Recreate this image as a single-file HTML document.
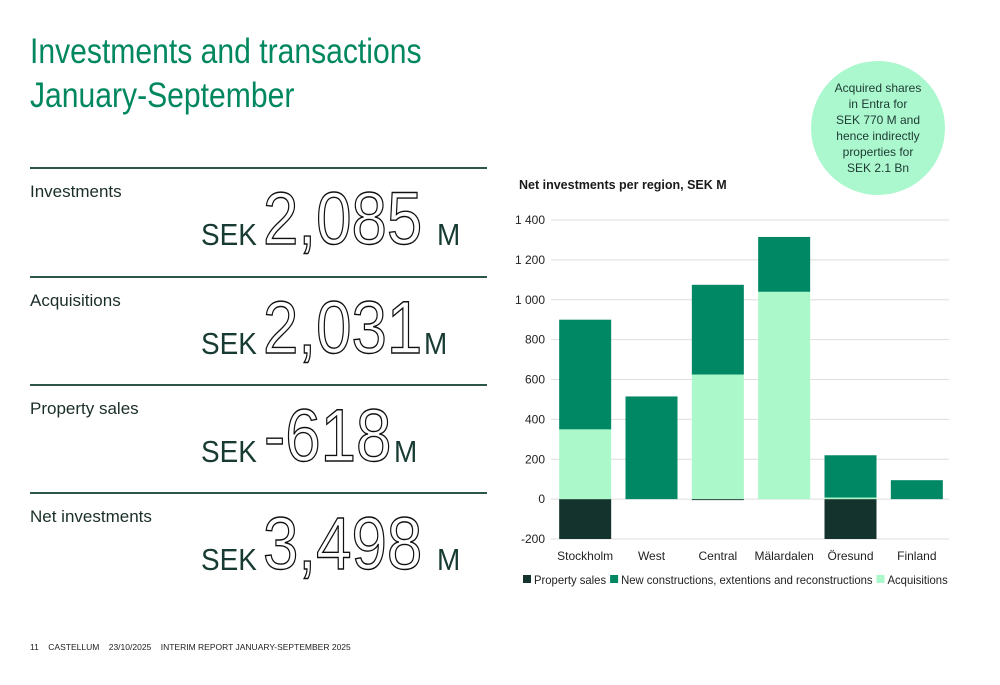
<!DOCTYPE html>
<html><head><meta charset="utf-8"><style>
body{margin:0;width:1000px;height:685px;background:#fff;font-family:"Liberation Sans",sans-serif;position:relative;overflow:hidden}
.abs{position:absolute}
.title{left:30px;top:30px;color:#00875f;font-size:35px;line-height:44px;transform:scaleX(0.86);transform-origin:left top;white-space:nowrap}
.rule{left:30px;width:457px;height:2px;background:#2d5548}
.lbl{left:30px;font-size:17px;color:#1a2e29}
.sek{font-size:31px;color:#173b32;transform:scaleX(0.9);transform-origin:left top;white-space:nowrap}
.big{font-size:74px;line-height:74px;color:#fff;-webkit-text-stroke:1.4px #111;transform:scaleX(0.86);transform-origin:left top;white-space:nowrap}
.circle{left:811px;top:61px;width:134px;height:134px;border-radius:50%;background:#abf8cf;color:#1d3a33;font-size:12px;line-height:16px;text-align:center;display:flex;align-items:center;justify-content:center}
.foot{left:30px;top:642px;font-size:8.5px;color:#222;white-space:nowrap}
</style></head><body>
<div class="abs title">Investments and transactions<br>January-September</div>

<div class="abs rule" style="top:167px"></div>
<div class="abs lbl" style="top:182px">Investments</div>
<div class="abs sek" style="left:201px;top:217px">SEK</div>
<div class="abs big" style="left:263px;top:182px">2,085</div>
<div class="abs sek" style="left:437px;top:217px">M</div>

<div class="abs rule" style="top:276px"></div>
<div class="abs lbl" style="top:291px">Acquisitions</div>
<div class="abs sek" style="left:201px;top:326px">SEK</div>
<div class="abs big" style="left:263px;top:291px">2,031</div>
<div class="abs sek" style="left:424px;top:326px">M</div>

<div class="abs rule" style="top:384px"></div>
<div class="abs lbl" style="top:399px">Property sales</div>
<div class="abs sek" style="left:201px;top:434px">SEK</div>
<div class="abs big" style="left:264px;top:399px">-618</div>
<div class="abs sek" style="left:394px;top:434px">M</div>

<div class="abs rule" style="top:492px"></div>
<div class="abs lbl" style="top:507px">Net investments</div>
<div class="abs sek" style="left:201px;top:542px">SEK</div>
<div class="abs big" style="left:263px;top:507px">3,498</div>
<div class="abs sek" style="left:437px;top:542px">M</div>

<div class="abs circle"><div>Acquired shares<br>in Entra for<br>SEK 770 M and<br>hence indirectly<br>properties for<br>SEK 2.1 Bn</div></div>

<svg class="abs" style="left:0;top:0" width="1000" height="685" id="chart"></svg>

<div class="abs foot">11&nbsp;&nbsp;&nbsp; CASTELLUM&nbsp;&nbsp;&nbsp; 23/10/2025&nbsp;&nbsp;&nbsp; INTERIM REPORT JANUARY-SEPTEMBER 2025</div>

<script>
const categories=["Stockholm","West","Central","Mälardalen","Öresund","Finland"];
const propertySales=[-200,0,-5,0,-200,0];
const newConstructions=[550,515,450,275,212,95];
const acquisitions=[350,0,625,1040,8,0];
const yTicks=[-200,0,200,400,600,800,1000,1200,1400];
const seriesNames=["Property sales","New constructions, extentions and reconstructions","Acquisitions"];
const colors=["#14332d","#008763","#abf8cb"];

const svg=document.getElementById('chart');
const NS="http://www.w3.org/2000/svg";
const x0=551,x1=949,yMin=-200,yMax=1400,py0=539,py1=220;
const y=v=>py0-(v-yMin)/(yMax-yMin)*(py0-py1);
const band=(x1-x0)/categories.length;
const bx=i=>x0+band*i+(band-52)/2+1;
function mk(tag,attrs){const e=document.createElementNS(NS,tag);for(const k in attrs)e.setAttribute(k,attrs[k]);svg.appendChild(e);return e;}

const t=mk('text',{x:519,y:189,'font-size':12.5,'font-weight':'bold',fill:'#1a1a1a'});


t.textContent="Net investments per region, SEK M";

yTicks.forEach(v=>{
  const g=mk('line',{x1:x0,x2:x1,y1:y(v),y2:y(v),stroke:'#dedede','stroke-width':1});
  
  
  const l=mk('text',{x:545,y:y(v)+4,'font-size':12,'text-anchor':'end',fill:'#222'});
  
  
  l.textContent=v<0?"-"+Math.abs(v):(v>=1000?String(v).replace(/(\d)(\d{3})$/,"$1 $2"):String(v));
});

categories.forEach((c,i)=>{
  const x=bx(i),w=52;
  const ps=propertySales[i];
  if(ps<0){const r=mk('rect',{x,y:y(0),width:w,height:y(ps)-y(0),fill:colors[0]});
    
    }
  let base=0;
  const a=acquisitions[i];
  if(a>0){const r=mk('rect',{x,y:y(a),width:w,height:y(0)-y(a),fill:colors[2]});
    
    base=a;}
  const n=newConstructions[i];
  if(n>0){const r=mk('rect',{x,y:y(base+n),width:w,height:y(base)-y(base+n),fill:colors[1]});
    
    }
  const l=mk('text',{x:x+w/2,y:560,'font-size':12,'text-anchor':'middle',fill:'#222'});
  
  
  l.textContent=c;
});

let lx=523;
seriesNames.forEach((s,i)=>{
  const r=mk('rect',{x:lx,y:575,width:8,height:8,fill:colors[i]});
  
  
  const tx=mk('text',{x:lx+11,y:584,'font-size':12,fill:'#222'});
  
  
  tx.textContent=s;
  const w=tx.getComputedTextLength()*0.94;
  tx.setAttribute('textLength',w);
  tx.setAttribute('lengthAdjust','spacingAndGlyphs');
  lx+=11+w+4;
});
</script>
</body></html>
